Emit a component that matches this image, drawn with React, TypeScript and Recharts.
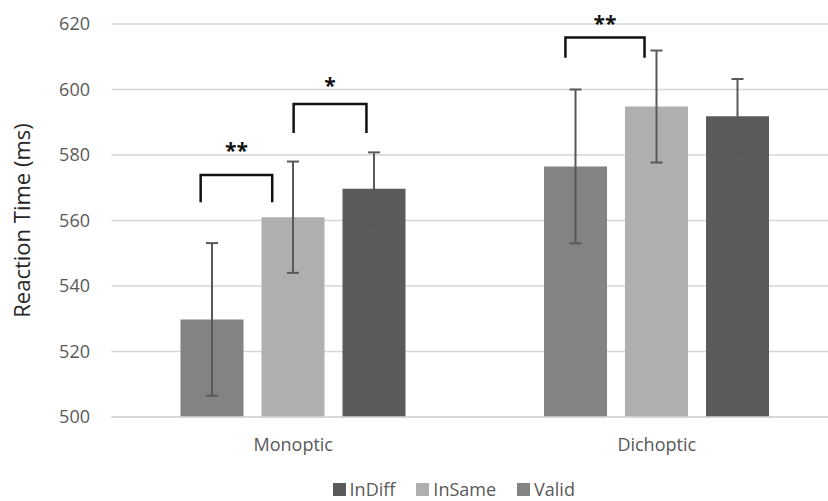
import { Bar, BarChart, CartesianGrid, ErrorBar, Legend, XAxis, YAxis } from "recharts";

const categories = ["Monoptic", "Dichoptic"];
const validMeans = [529.8, 576.5];
const validErrors = [23.3, 23.5];
const inSameMeans = [561, 594.8];
const inSameErrors = [17, 17.1];
const inDiffMeans = [569.7, 591.8];
const inDiffErrors = [11.1, 11.4];
const yTicks = [500, 520, 540, 560, 580, 600, 620];

// significance brackets: from/to are series slots (0 Valid, 1 InSame, 2 InDiff)
const brackets = [
  { cat: 0, from: 0, fromFrac: 0.32, to: 1, toFrac: 0.17, top: 573.9, leg: 565.6, stars: "**", starAt: 582.5 },
  { cat: 0, from: 1, fromFrac: 0.51, to: 2, toFrac: 0.38, top: 595.6, leg: 586.7, stars: "*", starAt: 602.2 },
  { cat: 1, from: 0, fromFrac: 0.34, to: 1, toFrac: 0.31, top: 615.9, leg: 609.7, stars: "**", starAt: 621.2 },
];

const data = categories.map((name, i) => ({
  name,
  valid: validMeans[i],
  validErr: validErrors[i],
  inSame: inSameMeans[i],
  inSameErr: inSameErrors[i],
  inDiff: inDiffMeans[i],
  inDiffErr: inDiffErrors[i],
}));

const COLORS = {
  valid: "#838383",
  inSame: "#afafaf",
  inDiff: "#5a5a5a",
  grid: "#d6d6d6",
  text: "#595959",
};

const FONT = "'Open Sans', sans-serif";
const Y_MIN = 500;
const BAR_SIZE = 63;
const BAR_GAP = 18;

const legendItems = [
  { label: "InDiff", color: COLORS.inDiff },
  { label: "InSame", color: COLORS.inSame },
  { label: "Valid", color: COLORS.valid },
];

function renderBrackets(props: any) {
  const vb = props.viewBox ?? props;
  const index = props.index;
  const value = Number(props.value);
  const height = Math.abs(vb.height);
  const top = Math.min(vb.y, vb.y + vb.height);
  const baseY = top + height;
  const perUnit = height / (value - Y_MIN);
  const toY = (v: number) => baseY - (v - Y_MIN) * perUnit;
  const step = vb.width + BAR_GAP;
  const items = brackets.filter((b) => b.cat === index);
  return (
    <g>
      {items.map((b, k) => {
        const x1 = vb.x + b.from * step + b.fromFrac * vb.width;
        const x2 = vb.x + b.to * step + b.toFrac * vb.width;
        const yt = toY(b.top);
        const yl = toY(b.leg);
        return (
          <g key={k}>
            <path
              d={`M${x1},${yl} L${x1},${yt} L${x2},${yt} L${x2},${yl}`}
              fill="none"
              stroke="#111"
              strokeWidth={2.5}
            />
            <text
              x={(x1 + x2) / 2}
              y={toY(b.starAt) + 11}
              textAnchor="middle"
              fontFamily={FONT}
              fontWeight={700}
              fontSize={21}
              fill="#111"
            >
              {b.stars}
            </text>
          </g>
        );
      })}
    </g>
  );
}

function renderLegend() {
  return (
    <div
      style={{
        display: "flex",
        justifyContent: "center",
        alignItems: "center",
        height: 20,
        lineHeight: "20px",
        paddingLeft: 90,
        fontFamily: FONT,
        fontSize: 18,
        color: COLORS.text,
      }}
    >
      {legendItems.map((it) => (
        <div key={it.label} style={{ display: "flex", alignItems: "center", marginRight: 21 }}>
          <span style={{ width: 13, height: 13, background: it.color, marginRight: 4, display: "inline-block" }} />
          <span>{it.label}</span>
        </div>
      ))}
    </div>
  );
}

export default function App() {
  return (
    <div
      style={{
        position: "absolute",
        left: 0,
        top: 0,
        width: 828,
        height: 501,
        overflow: "hidden",
        background: "#fff",
      }}
    >
      <BarChart
        width={840}
        height={501}
        data={data}
        margin={{ top: 24, right: 1.5, left: 0, bottom: 2 }}
        barSize={BAR_SIZE}
        barGap={BAR_GAP}
      >
        <CartesianGrid vertical={false} stroke={COLORS.grid} strokeWidth={1.5} />
        <XAxis
          dataKey="name"
          height={62}
          tickLine={false}
          axisLine={{ stroke: COLORS.grid, strokeWidth: 1.5 }}
          tickMargin={15}
          tick={{ fill: COLORS.text, fontSize: 18, fontFamily: FONT }}
        />
        <YAxis
          width={111.5}
          domain={[500, 620]}
          ticks={yTicks}
          tickLine={false}
          axisLine={false}
          tickMargin={15.5}
          tick={{ fill: COLORS.text, fontSize: 18, fontFamily: FONT }}
          label={{
            value: "Reaction Time (ms)",
            angle: -90,
            position: "insideLeft",
            offset: 22,
            style: { textAnchor: "middle", fill: "#262626", fontSize: 22, fontFamily: FONT },
          }}
        />
        <Legend verticalAlign="bottom" content={renderLegend} />
        <Bar dataKey="valid" fill={COLORS.valid} isAnimationActive={false} label={renderBrackets}>
          <ErrorBar dataKey="validErr" width={6} strokeWidth={2} stroke={COLORS.text} direction="y" />
        </Bar>
        <Bar dataKey="inSame" fill={COLORS.inSame} isAnimationActive={false}>
          <ErrorBar dataKey="inSameErr" width={6} strokeWidth={2} stroke={COLORS.text} direction="y" />
        </Bar>
        <Bar dataKey="inDiff" fill={COLORS.inDiff} isAnimationActive={false}>
          <ErrorBar dataKey="inDiffErr" width={6} strokeWidth={2} stroke={COLORS.text} direction="y" />
        </Bar>
      </BarChart>
    </div>
  );
}
